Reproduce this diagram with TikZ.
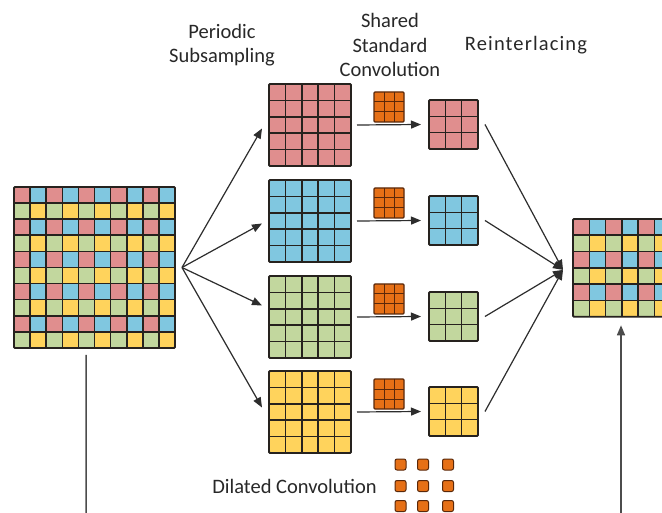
\documentclass[tikz,border=0pt]{standalone}
\usepackage{fontspec}
\setmainfont{Carlito}
\usetikzlibrary{arrows.meta,calc}

\definecolor{cred}{RGB}{224,142,142}
\definecolor{cblue}{RGB}{128,199,224}
\definecolor{cgreen}{RGB}{194,215,158}
\definecolor{cyellow}{RGB}{255,211,92}
\definecolor{corange}{RGB}{230,112,22}
\definecolor{gridc}{RGB}{38,34,30}
\definecolor{kernc}{RGB}{90,40,10}
\definecolor{arrowc}{RGB}{45,45,45}
\definecolor{textc}{RGB}{40,40,40}

\tikzset{
  gridframe/.style={draw=gridc, line width=1.9pt, inner sep=0pt, outer sep=0pt,
    rounded corners=1pt},
  gline/.style={draw=gridc, line width=1.6pt},
  kline/.style={draw=kernc, line width=1pt},
  kernbox/.style={draw=kernc, fill=corange, line width=1.1pt, inner sep=0pt,
    outer sep=0pt, minimum size=30pt, rounded corners=1pt},
  dotbox/.style={draw=kernc, fill=corange, line width=1pt, inner sep=0pt,
    minimum size=11pt, rounded corners=2pt},
  arr/.style={draw=arrowc, line width=1.2pt, -{Triangle[length=10pt,width=8pt]}},
  plainline/.style={draw=arrowc!85, line width=1.5pt},
  headtext/.style={text=textc, align=center, font=\fontsize{20.5}{24.5}\selectfont}
}

% square grid of one colour: name, left, top, cells per side, cell size, colour
\newcommand\plaingrid[6]{%
  \node[gridframe, fill=#6, minimum size={#4*#5*1pt}] (#1)
    at ({#2+#4*#5/2},{#3+#4*#5/2}) {};
  \pgfmathtruncatemacro\nm{#4-1}
  \foreach \k in {1,...,\nm}{
    \draw[gline] ({#2+\k*#5},#3) -- ++(0,{#4*#5});
    \draw[gline] (#2,{#3+\k*#5}) -- ++({#4*#5},0);
  }
}

% interlaced four-colour grid built from 2x2 blocks:
% name, left, top, number of blocks per side, cell size
\newcommand\checkgrid[5]{%
  \pgfmathtruncatemacro\nb{#4-1}
  \foreach \bi in {0,...,\nb}{
    \foreach \bj in {0,...,\nb}{
      \fill[cred]    ({#2+(2*\bi)*#5},  {#3+(2*\bj)*#5})   rectangle ++(#5,#5);
      \fill[cblue]   ({#2+(2*\bi+1)*#5},{#3+(2*\bj)*#5})   rectangle ++(#5,#5);
      \fill[cgreen]  ({#2+(2*\bi)*#5},  {#3+(2*\bj+1)*#5}) rectangle ++(#5,#5);
      \fill[cyellow] ({#2+(2*\bi+1)*#5},{#3+(2*\bj+1)*#5}) rectangle ++(#5,#5);
    }
  }
  \pgfmathtruncatemacro\nl{2*#4-1}
  \foreach \k in {1,...,\nl}{
    \draw[gline] ({#2+\k*#5},#3) -- ++(0,{2*#4*#5});
    \draw[gline] (#2,{#3+\k*#5}) -- ++({2*#4*#5},0);
  }
  \node[gridframe, minimum size={2*#4*#5*1pt}] (#1)
    at ({#2+#4*#5},{#3+#4*#5}) {};
}

\begin{document}
\begin{tikzpicture}[x=1pt,y=-1pt]
\clip (0,0) rectangle (662,513);
\fill[white] (0,0) rectangle (662,513);

% input feature map and re-interlaced output
\checkgrid{big}{14}{187}{5}{16.1}
\checkgrid{out}{573}{219}{3}{16.3}

% column headings
\node[headtext] (hsub) at (222,45) {Periodic\\Subsampling};
\node[headtext] (hconv) at (390,45) {Shared\\Standard\\Convolution};
\node[headtext] (hre) at (526,45) {\addfontfeature{LetterSpace=5.5}Reinterlacing};

% the four sub-sampled branches
\foreach \r/\y/\c/\d in {1/84/cred/3.5, 2/180/cblue/2.5, 3/276/cgreen/-11.5, 4/371/cyellow/-4.5}{
  \plaingrid{b\r}{269}{\y}{5}{16.4}{\c}
  \plaingrid{s\r}{429}{\y+16}{3}{16.33}{\c}
  \node[kernbox] (k\r) at (389,\y+23) {};
  \foreach \k in {1,2}{
    \draw[kline] ($(k\r.north west)+(\k*10,0)$) -- ++(0,30);
    \draw[kline] ($(k\r.north west)+(0,\k*10)$) -- ++(30,0);
  }
  \draw[arr] ([xshift=6pt]b\r.east) -- ([xshift=-8pt]s\r.west);
  \draw[arr] ([xshift=7pt]big.east) -- ([shift={(-7,\d)}]b\r.west);
}

% branches merging into the output
\coordinate (join) at ([shift={(-10,2)}]out.west);
\foreach \r in {1,...,4}{
  \draw[arr] ([xshift=7pt]s\r.east) -- (join);
}

% dilated kernel
\node[headtext] (hdil) at (294.5,486) {Dilated Convolution};
\foreach \a/\px in {1/400.5,2/423,3/448}{
  \foreach \b/\py in {1/464.5,2/486,3/506}{
    \node[dotbox] (d\a\b) at (\px,\py) {};
  }
}

% lines leaving the bottom edge
\coordinate (lowl) at (86,520);
\coordinate (lowr) at (621,520);
\draw[plainline] ([shift={(-8.5,7)}]big.south) -- (lowl);
\draw[arr, draw=arrowc!85, line width=1.5pt] (lowr) -- ([shift={(-0.9,8.5)}]out.south);
\end{tikzpicture}
\end{document}
